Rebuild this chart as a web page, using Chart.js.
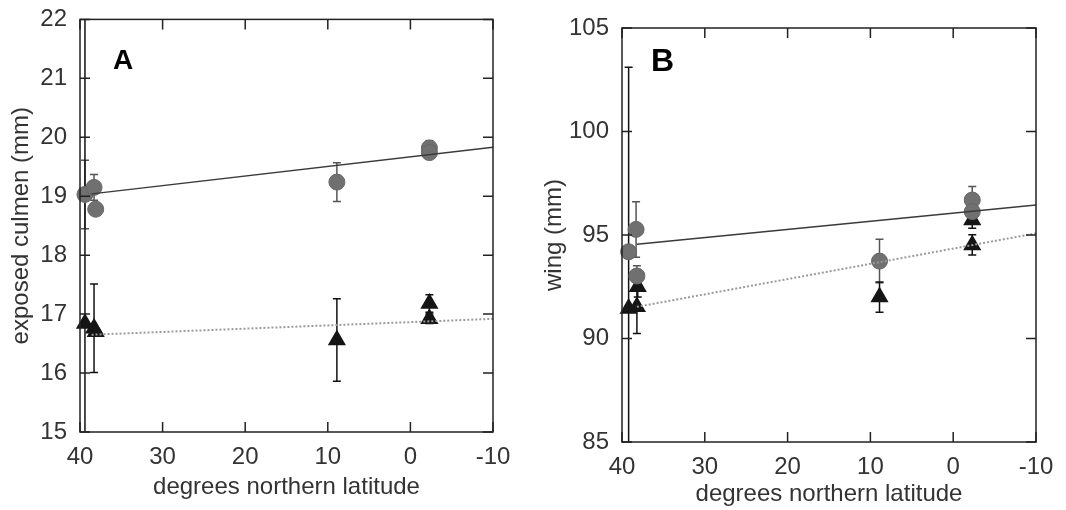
<!DOCTYPE html>
<html>
<head>
<meta charset="utf-8">
<script src="https://cdn.jsdelivr.net/npm/chart.js@4.4.1/dist/chart.umd.min.js"></script>
<style>
  body { margin: 0; background: #fff; width: 1066px; height: 510px; overflow: hidden; position: relative; }
  .panel { position: absolute; top: 0; width: 533px; height: 510px; }
</style>
</head>
<body>
<div class="panel" style="left:0"><canvas id="chartA" width="533" height="510"></canvas></div>
<div class="panel" style="left:533px"><canvas id="chartB" width="533" height="510"></canvas></div>
<script>
// latitude ticks shared by both panels
const latTicks = [40, 30, 20, 10, 0, -10];

// panel A - exposed culmen
const latACircles = [39.4, 38.3, 38.1, 8.9, -2.3, -2.3];
const culmenCircles = [19.03, 19.15, 18.78, 19.24, 19.82, 19.74];
const culmenCircleErr = [0.58, 0.22, 0, 0.33, 0.12, 0.08];
const latATriangles = [39.4, 38.3, 38.1, 8.9, -2.3, -2.3];
const culmenTriangles = [16.84, 16.76, 16.7, 16.56, 17.18, 16.92];
const culmenTriangleErr = [5.5, 0.75, 0, 0.7, 0.15, 0.08];
const latAFit = [38.6, -10];
const culmenCircleFit = [19.04, 19.83];
const culmenTriangleFit = [16.65, 16.92];

// panel B - wing
const latBCircles = [39.2, 38.3, 38.2, 8.9, -2.3, -2.3];
const wingCircles = [94.19, 95.27, 93.02, 93.74, 96.69, 96.13];
const wingCircleErr = [0, 1.34, 0.5, 1.05, 0.65, 0.5];
const latBTriangles = [39.2, 38.2, 38.1, 8.9, -2.3, -2.3];
const wingTriangles = [91.45, 91.53, 92.5, 92.0, 95.73, 94.52];
const wingTriangleErr = [11.65, 1.29, 0.5, 0.73, 0.4, 0.49];
const latBFit = [38.2, -10];
const wingCircleFit = [94.55, 96.45];
const wingTriangleFit = [91.53, 95.08];

const FONT = "'Liberation Sans', Arial, sans-serif";

function pairs(xs, ys) {
    const out = [];
    for (let i = 0; i < xs.length; i++) out.push({ x: xs[i], y: ys[i] });
    return out;
}

// error bars, box and inward ticks (matlab look)
const frame = {
    id: 'frame',
    beforeDatasetsDraw(chart) {
        const { ctx, chartArea: a, scales: { x, y } } = chart;
        ctx.save();
        ctx.beginPath();
        ctx.rect(a.left, a.top, a.right - a.left, a.bottom - a.top);
        ctx.clip();
        chart.data.datasets.forEach(ds => {
            if (!ds.errors) return;
            ctx.strokeStyle = ds.errColor;
            ctx.lineWidth = 1.5;
            ds.data.forEach((p, i) => {
                const e = ds.errors[i];
                if (!e) return;
                const px = x.getPixelForValue(p.x);
                const y1 = y.getPixelForValue(p.y + e);
                const y2 = y.getPixelForValue(p.y - e);
                ctx.beginPath();
                ctx.moveTo(px, y1); ctx.lineTo(px, y2);
                ctx.moveTo(px - 4, y1); ctx.lineTo(px + 4, y1);
                ctx.moveTo(px - 4, y2); ctx.lineTo(px + 4, y2);
                ctx.stroke();
            });
        });
        ctx.restore();
    },
    afterDraw(chart, args, opts) {
        const { ctx, chartArea: a, scales: { x, y } } = chart;
        ctx.save();
        ctx.strokeStyle = '#222';
        ctx.lineWidth = 1.5;
        ctx.strokeRect(a.left, a.top, a.right - a.left, a.bottom - a.top);
        ctx.beginPath();
        x.ticks.forEach(t => {
            const px = x.getPixelForValue(t.value);
            ctx.moveTo(px, a.bottom); ctx.lineTo(px, a.bottom - 10);
            ctx.moveTo(px, a.top); ctx.lineTo(px, a.top + 10);
        });
        y.ticks.forEach(t => {
            const py = y.getPixelForValue(t.value);
            ctx.moveTo(a.left, py); ctx.lineTo(a.left + 10, py);
            ctx.moveTo(a.right, py); ctx.lineTo(a.right - 10, py);
        });
        ctx.stroke();
        ctx.fillStyle = '#000';
        ctx.font = 'bold ' + opts.size + 'px ' + FONT;
        ctx.textBaseline = 'alphabetic';
        ctx.fillText(opts.letter, a.left + opts.dx, a.top + opts.dy);
        ctx.restore();
    }
};

function makeChart(id, cfg) {
    return new Chart(document.getElementById(id), {
        type: 'scatter',
        data: {
            datasets: [
                {
                    data: pairs(cfg.fitX, cfg.circleFit), showLine: true, pointRadius: 0,
                    borderColor: '#3a3a3a', borderWidth: 1.5, clip: false
                },
                {
                    data: pairs(cfg.fitX, cfg.triFit), showLine: true, pointRadius: 0,
                    borderColor: '#9a9a9a', borderWidth: 2, borderDash: [2, 2], clip: false
                },
                {
                    data: pairs(cfg.circX, cfg.circY), errors: cfg.circErr, errColor: '#555',
                    pointStyle: 'circle', pointRadius: 8, backgroundColor: '#707070',
                    borderColor: '#666', borderWidth: 1, clip: false
                },
                {
                    data: pairs(cfg.triX, cfg.triY), errors: cfg.triErr, errColor: '#111',
                    pointStyle: 'triangle', pointRadius: 10.5, backgroundColor: '#151515',
                    borderWidth: 0, clip: false
                }
            ]
        },
        options: {
            responsive: false,
            animation: false,
            events: [],
            layout: { padding: cfg.padding },
            plugins: {
                legend: { display: false },
                tooltip: { enabled: false },
                frame: cfg.letter
            },
            scales: {
                x: {
                    type: 'linear', reverse: true, min: -10, max: 40,
                    afterBuildTicks: s => { s.ticks = latTicks.map(v => ({ value: v })); },
                    afterFit: s => { s.height = cfg.xHeight; },
                    grid: { display: false }, border: { display: false },
                    ticks: { color: '#333', font: { family: FONT, size: 24 }, padding: 3, maxRotation: 0 },
                    title: {
                        display: true, text: 'degrees northern latitude', color: '#333',
                        font: { family: FONT, size: 24 }, padding: { top: 0, bottom: cfg.xTitlePad }
                    }
                },
                y: {
                    type: 'linear', min: cfg.yMin, max: cfg.yMax,
                    afterBuildTicks: s => { s.ticks = cfg.yTicks.map(v => ({ value: v })); },
                    afterFit: s => { s.width = cfg.yWidth; },
                    grid: { display: false }, border: { display: false },
                    ticks: { color: '#333', font: { family: FONT, size: 24 }, padding: 5 },
                    title: {
                        display: true, text: cfg.yTitle, color: '#333',
                        font: { family: FONT, size: 24 }, padding: { top: 7, bottom: 0 }
                    }
                }
            }
        },
        plugins: [frame]
    });
}

makeChart('chartA', {
    fitX: latAFit, circleFit: culmenCircleFit, triFit: culmenTriangleFit,
    circX: latACircles, circY: culmenCircles, circErr: culmenCircleErr,
    triX: latATriangles, triY: culmenTriangles, triErr: culmenTriangleErr,
    yMin: 15, yMax: 22, yTicks: [15, 16, 17, 18, 19, 20, 21, 22],
    yTitle: 'exposed culmen (mm)',
    padding: { top: 18, right: 40, bottom: 0, left: 0 },
    yWidth: 80, xHeight: 78, xTitlePad: 8,
    letter: { letter: 'A', size: 28, dx: 33, dy: 50 }
});

makeChart('chartB', {
    fitX: latBFit, circleFit: wingCircleFit, triFit: wingTriangleFit,
    circX: latBCircles, circY: wingCircles, circErr: wingCircleErr,
    triX: latBTriangles, triY: wingTriangles, triErr: wingTriangleErr,
    yMin: 85, yMax: 105, yTicks: [85, 90, 95, 100, 105],
    yTitle: 'wing (mm)',
    padding: { top: 28, right: 30, bottom: 0, left: 0 },
    yWidth: 89, xHeight: 68, xTitlePad: 1,
    letter: { letter: 'B', size: 32, dx: 29, dy: 43 }
});
</script>
</body>
</html>
